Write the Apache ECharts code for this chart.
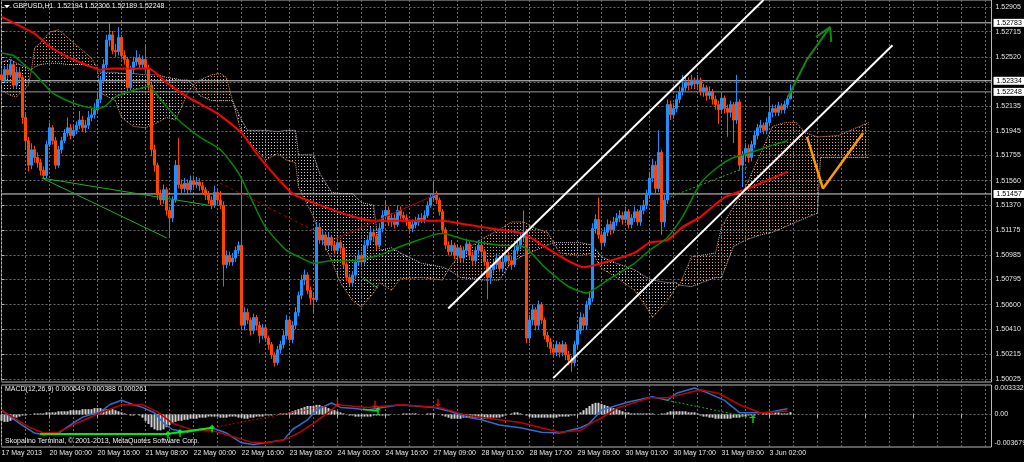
<!DOCTYPE html>
<html><head><meta charset="utf-8">
<script src="https://cdn.jsdelivr.net/npm/echarts@6/dist/echarts.min.js"></script>
<style>html,body{margin:0;padding:0;background:#000}#c{width:1024px;height:462px}</style>
</head><body><div id="c"></div>
<script>
// ---------- DATA (prices in pips above 1.5000: price = 1.5 + pips/10000) ----------
const BASE = 1.5, PIP = 0.0001;
const titleText = 'GBPUSD,H1  1.52194 1.52306 1.52189 1.52248';
const macdText = 'MACD(12,26,9) 0.000649 0.000388 0.000261';
const copyText = 'Skopalino Terminal, \u00A9 2001-2013, MetaQuotes Software Corp.';
const tickLabels = ['17 May 2013','20 May 00:00','20 May 16:00','21 May 08:00','22 May 00:00','22 May 16:00','23 May 08:00','24 May 00:00','24 May 16:00','27 May 09:00','28 May 01:00','28 May 17:00','29 May 09:00','30 May 01:00','30 May 17:00','31 May 09:00','3 Jun 02:00'];
const priceTicks = [1.50025,1.50215,1.50410,1.50600,1.50795,1.50985,1.51175,1.51370,1.51560,1.51755,1.51945,1.52135,1.52325,1.52520,1.52715,1.52905];
const levelLines = [1.52783,1.52334,1.52248,1.51457];
const firstOpen = 238;
const closes = [234,242,238,246,230,240,236,205,187,168,
180,174,170,164,160,184,197,187,168,180,
187,193,197,191,195,199,203,197,199,205,
207,211,219,234,246,265,269,257,256,267,
253,250,228,242,248,251,246,250,243,230,
180,168,145,141,149,133,127,141,168,153,
150,154,149,156,153,155,152,149,145,141,
137,147,141,137,91,98,93,96,102,106,
44,54,48,40,50,44,36,42,34,29,
21,15,25,29,36,48,33,44,54,67,
79,83,71,65,64,120,110,114,106,112,
106,102,108,104,91,81,77,83,93,98,
93,106,110,116,113,106,119,129,133,124,
127,122,133,129,127,124,119,122,124,127,
126,129,137,143,145,141,132,118,106,101,
106,98,104,96,102,107,98,94,102,106,
101,93,81,87,91,96,88,93,98,94,
91,102,106,112,116,34,48,56,44,60,
48,36,31,26,23,29,23,29,21,17,
15,29,40,50,44,60,65,119,126,114,
108,116,122,118,124,127,129,126,132,122,
127,132,124,133,137,145,158,168,150,178,
124,141,215,207,212,219,225,228,232,230,
234,231,234,225,228,222,225,219,215,211,
220,212,209,215,203,217,168,176,181,174,
184,191,197,199,195,201,209,212,209,214,
211,215,219.4,224.8];
const highs = [242,245,246,250,248,243,244,238,208,190,
185,183,178,173,167,187,201,199,190,183,
190,196,205,200,199,202,210,206,203,210,
212,216,224,237,250,269,278,272,262,275,
269,257,252,245,252,257,254,253,261,246,
232,184,170,149,153,151,136,144,172,189,
157,158,157,160,160,159,158,155,151,148,
144,152,150,148,140,102,101,100,105,109,
156,58,57,50,53,52,47,45,44,36,
31,23,28,32,40,52,50,47,58,70,
83,87,85,74,69,124,123,118,116,116,
114,109,112,110,106,93,84,86,97,102,
100,110,114,120,119,115,123,133,141,136,
131,130,137,136,132,130,126,126,128,130,
131,133,140,146,155,148,143,134,120,109,
110,108,107,106,105,111,109,101,105,110,
108,103,95,90,95,100,98,97,102,101,
97,106,110,116,133,118,52,60,58,63,
62,50,39,34,29,32,31,32,31,24,
20,32,44,54,53,63,70,123,130,143,
117,120,126,125,128,131,133,132,136,134,
130,136,134,137,141,149,163,173,171,195,
180,145,219,218,216,223,229,238,236,236,
238,236,238,236,231,230,229,227,222,218,
224,222,215,218,217,238,219,179,185,184,
187,195,200,203,201,205,221,215,215,217,
216,218,222,230.6];
const lows = [231,232,235,236,227,228,233,200,180,163,
165,170,166,160,158,158,182,184,165,166,
177,185,190,188,189,192,196,194,193,196,
202,204,209,216,231,243,260,254,252,253,
250,246,225,226,239,245,243,243,240,226,
175,163,141,137,138,129,112,124,139,150,
146,147,145,147,150,150,148,146,141,138,
134,135,138,134,74,88,90,90,93,99,
40,40,45,36,37,40,30,33,31,25,
18,12,13,22,26,33,30,30,41,51,
64,75,68,60,53,62,107,106,102,103,
102,99,100,100,88,78,74,74,80,90,
89,91,103,107,109,102,104,116,126,121,
120,119,120,126,124,121,116,116,119,121,
123,123,127,135,140,138,129,115,103,98,
98,95,95,93,92,100,95,90,91,99,
97,90,64,76,84,88,85,85,90,91,
87,89,99,103,109,30,30,44,40,41,
45,33,27,22,19,20,19,20,17,13,
8,12,26,37,40,41,56,62,115,111,
104,105,113,114,115,121,124,122,123,119,
119,124,121,121,130,134,142,155,146,147,
114,120,138,203,204,209,216,222,225,226,
227,227,228,222,221,218,219,215,211,200,
208,208,190,205,185,200,164,151,172,170,
171,181,188,193,192,192,198,205,206,206,
208,208,212,218.9];
// moving averages [bar, pips]
const redMA = [[0,283],[11,270],[16,260],[22,252],[27,247],[33,242],[37,243],[42,243],[49,243],[55,232],[62,221],[72,208],[80,193],[86,174],[97,146],[104,139],[116,129],[124,125],[133,125],[147,125],[155,122],[166,118],[174,115],[183,102],[194,89],[200,92],[211,100],[216,108],[222,110],[227,120],[233,128],[241,143],[249,150],[255,156],[262,163]];
const greenMA = [[0,255],[4,253],[7,247],[11,239],[17,224],[24,216],[31,212],[34,213],[38,221],[44,226],[49,229],[53,219],[59,203],[66,190],[73,180],[79,162],[83,143],[88,120],[95,102],[100,96],[104,92],[110,94],[117,94],[124,97],[129,101],[133,105],[139,110],[144,114],[147,115],[155,110],[166,106],[174,105],[181,89],[189,74],[195,69],[202,79],[211,92],[216,102],[222,112],[227,128],[233,154],[239,167],[244,174],[250,178],[255,182],[262,187]];
// Ichimoku cloud spans (sampled bars, pips)
const cloudBars = [0,3,5,9,10,11,13,16,19,22,24,27,30,32,33,38,40,44,48,52,55,58,60,62,64,66,70,73,75,77,80,82,86,88,92,95,98,99,104,106,110,113,117,120,124,126,130,133,140,147,149,153,161,166,170,174,178,182,184,186,193,197,200,205,211,215,217,222,225,226,230,238,240,244,248,253,257,261,265,268,272,273,279,286,289];
const spanA = [226,222,221,230,242,259,263,271,273,267,263,257,251,243,224,218,205,198,197,201,205,203,213,224,230,234,238,239,236,218,193,187,177,172,177,172,170,151,128,115,94,77,63,58,69,77,71,80,81,79,87,100,112,118,124,124,119,116,108,100,98,100,88,81,71,58,50,63,74,75,97,100,120,136,151,177,198,201,201,193,190,190,191,198,201];
const spanB = [248,250,247,243,242,244,246,247,247,246,246,246,244,243,240,240,239,239,238,238,236,235,234,234,230,222,218,218,218,218,203,195,195,195,194,195,195,176,176,162,147,146,146,139,137,102,104,100,92,89,87,81,79,79,93,98,102,106,108,108,108,106,97,92,87,81,79,77,77,75,74,81,81,105,110,114,116,120,124,127,131,174,174,174,174];
// drawings [bar, pips]
const channelUpper = [[148.9,57],[254,296]];
const channelLower = [[183.9,3],[297,261]];
const greenTrend1 = [[13.5,158],[70.5,136.4]];
const greenTrend2 = [[13.5,158],[55.2,111.5]];
const greenTrend3 = [[120.5,80.5],[125.5,72.8]];
const redDashed = [[72.8,154.2],[103.8,117.8]];
const redSolid = [[110.5,110],[145.2,145.7]];
const greenDotted = [[221.8,142.5],[248.5,166.6]];
const greenArrow = [[262.2,221],[268.5,250],[276.2,275]];
const greenArrowHead = [[271.5,267.3],[276.2,275],[276.6,263.4]];
const orangeV = [[268.5,190],[273.8,150],[287.2,193]];
// MACD lines (units of 0.0001), histogram (units of 0.00012)
const macdMain = [[0,5],[6,-10],[11,-21],[14,-23],[19,-21],[22,-14],[27,-3],[33,3],[36,11],[40,16],[44,11],[47,8],[51,2],[54,-10],[57,-17],[62,-20],[66,-17],[70,-15],[75,-21],[80,-32],[84,-34],[88,-32],[94,-29],[97,-17],[102,-6],[105,5],[110,13],[113,8],[117,7],[122,5],[127,8],[133,11],[144,8],[150,3],[155,-3],[160,-6],[166,-12],[173,-15],[180,-20],[186,-21],[193,-15],[196,-10],[200,5],[209,14],[217,20],[222,16],[225,24],[231,30],[235,25],[241,16],[246,2],[255,2],[262,6.5]];
const macdSignal = [[0,5],[9,-14],[14,-21],[19,-20],[25,-10],[33,2],[40,11],[47,11],[52,3],[57,-10],[64,-18],[70,-18],[77,-25],[83,-31],[88,-32],[94,-29],[99,-21],[104,-10],[110,5],[112,11],[122,8],[133,11],[146,8],[155,-1],[164,-5],[173,-9],[186,-20],[193,-18],[197,-9],[200,-4],[205,7],[216,19],[222,19],[233,28],[239,24],[246,11],[253,2],[262,3.9]];
const macdHist = [-6,-7,-7,-6,-5,-3,-2,-1,-1,0,0,1,1,1,
1,2,2,
2,2,3,3,3,3,4,4,4,
4,5,5,5,5,6,6,6,5,5,4,
5,4,3,2,1,
0,-1,-1,0,-1,
-3,-6,-9,-12,-14,-15,-15,-14,-12,-10,-8,
-7,-6,-6,-5,-5,-4,-4,-4,-3,-3,-3,-2,-2,
-2,-2,-3,-3,-3,-2,-2,-2,-3,-3,-4,-4,-3,-3,-2,-2,-2,-1,-1,-1,0,0,1,1,
1,2,3,4,5,6,7,8,8,8,
9,9,8,7,6,5,
4,3,2,1,0,-1,-1,-2,-2,-2,-2,-2,-2,-1,-1,-1,-1,-1,-1,0,0,0,
0,1,1,1,1,1,0,0,0,1,1,1,0,0,
-1,-2,-3,-4,-4,-4,-4,-3,-3,-3,-3,-3,-3,-4,-4,-4,-3,-3,-3,-3,-2,-1,0,
1,2,2,1,0,
-1,-2,-3,-3,-3,-3,-3,-3,-3,-3,-3,-2,-2,-2,-2,-1,-1,0,
2,4,6,8,10,11,11,10,9,8,7,6,5,4,3,
2,2,1,1,1,1,1,1,1,1,0,0,1,1,
2,3,3,3,3,3,3,2,2,2,1,
-1,-2,-2,-3,-3,-4,-4,-4,-4,-4,-4,-3,-3,-3,-2,-2,
-1,-1,-1,0,0,1,1,1,1,2,2,1,1,1,2.2];
const macdGreenBar = [[12.8,-22],[55,-22],[70.5,-15]];
const macdRedDotted = [[71.8,-14],[110.5,11]];
const macdGreenDotted = [[221.8,16],[250.5,-4]];
const macdGreenShort = [[120.5,6],[125.5,4]];
const downArrows = [[112,13],[124.5,11],[145.5,13]];
const upArrows = [[55.5,-23],[59.5,-21],[70.2,-16],[125.5,4],[250.5,-5]];
const macdTicks = [-0.003679, 0, 0.003332];

// ---------- BUILD ----------
const N = 331; // bar slots incl. future area
const cats = Array.from({length: N}, (_, i) => String(i));
const price = p => +(BASE + p * PIP).toFixed(5);
const toPrice = arr => arr.map(d => [d[0], price(d[1])]);
const toMacd = arr => arr.map(d => [d[0], d[1] * 1e-4]);
const candles = closes.map((c, i) => {
  const o = i === 0 ? firstOpen : closes[i - 1];
  return [price(o), price(c), price(lows[i]), price(highs[i])];
});

function dots(color) {
  const cv = document.createElement('canvas');
  cv.width = 3; cv.height = 3;
  const g = cv.getContext('2d');
  g.fillStyle = color; g.fillRect(1, 1, 1, 1);
  return {image: cv, repeat: 'repeat'};
}
const brownDots = dots('#f0a060');
const thistleDots = dots('#d8c8d8');

function cloudRender(params, api) {
  const children = [];
  const P = (x, p) => api.coord([x, BASE + p * PIP]);
  for (let k = 0; k < cloudBars.length - 1; k++) {
    const x0 = cloudBars[k], x1 = cloudBars[k + 1];
    const a0 = spanA[k], a1 = spanA[k + 1], b0 = spanB[k], b1 = spanB[k + 1];
    const d0 = a0 - b0, d1 = a1 - b1;
    const polys = [];
    if (d0 * d1 < 0) {
      const t = d0 / (d0 - d1);
      const xm = x0 + t * (x1 - x0), ym = a0 + t * (a1 - a0);
      polys.push([[P(x0, a0), P(xm, ym), P(x0, b0)], d0]);
      polys.push([[P(xm, ym), P(x1, a1), P(x1, b1)], d1]);
    } else {
      polys.push([[P(x0, a0), P(x1, a1), P(x1, b1), P(x0, b0)], d0 + d1]);
    }
    polys.forEach(pp => children.push({
      type: 'polygon', shape: {points: pp[0]},
      style: {fill: pp[1] >= 0 ? brownDots : thistleDots, stroke: null}
    }));
  }
  return {type: 'group', children};
}

const FONT = 'Liberation Sans';
const gridLine = {show: true, lineStyle: {color: '#6a6a6a', type: [2, 2], width: 1}};
const lineSeries = (data, color, width, type, extra) => Object.assign({
  type: 'line', xAxisIndex: 1, yAxisIndex: 0, data: toPrice(data), showSymbol: false, symbol: 'none',
  lineStyle: {color, width, type: type || 'solid'}, silent: true, z: 5
}, extra || {});
const macdLine = (data, color, width, type) => ({
  type: 'line', xAxisIndex: 3, yAxisIndex: 1, data: toMacd(data), showSymbol: false, symbol: 'none',
  lineStyle: {color, width, type: type || 'solid'}, silent: true, z: 4
});
const levelSeries = v => ({
  type: 'line', xAxisIndex: 1, yAxisIndex: 0, data: [[0, v], [N - 1, v]], showSymbol: false, symbol: 'none',
  silent: true, z: 2, lineStyle: {color: v === 1.52248 ? '#9a9a9a' : '#d8d8d8', width: 1},
  endLabel: {show: true, distance: 2, formatter: () => v.toFixed(5), backgroundColor: '#fff', color: '#000',
    fontSize: 7, fontFamily: FONT, padding: [1, 3, 0, 3]}
});
const arrowPath = 'path://M3,0 L5,0 L5,6 L8,6 L4,10 L0,6 L3,6 Z';

const option = {
  backgroundColor: '#000',
  animation: false,
  textStyle: {fontFamily: FONT},
  grid: [
    {left: 1.5, right: 32.5, top: 0, height: 382, show: true, borderColor: '#b8b8b8', borderWidth: 1, outerBoundsMode: 'none', containLabel: false},
    {left: 1.5, right: 32.5, top: 385, height: 62, show: true, borderColor: '#b8b8b8', borderWidth: 1, outerBoundsMode: 'none', containLabel: false}
  ],
  xAxis: [
    {type: 'category', gridIndex: 0, data: cats, boundaryGap: false, axisLine: {show: false}, axisTick: {show: false}, axisLabel: {show: false}, splitLine: Object.assign({interval: 7}, gridLine)},
    {type: 'value', gridIndex: 0, min: 0, max: N - 1, show: false},
    {type: 'category', gridIndex: 1, data: cats, boundaryGap: false, axisLine: {show: false},
      axisTick: {show: true, interval: 15, length: 3, lineStyle: {color: '#b8b8b8'}},
      axisLabel: {interval: 15, align: 'left', margin: 3, color: '#e6e6e6', fontSize: 7, fontFamily: FONT,
        formatter: (v, i) => (i % 16 === 0 && tickLabels[i / 16]) ? tickLabels[i / 16] : ''},
      splitLine: Object.assign({interval: 7}, gridLine)},
    {type: 'value', gridIndex: 1, min: 0, max: N - 1, show: false}
  ],
  yAxis: [
    {type: 'value', gridIndex: 0, position: 'right', min: 1.5, max: 1.5296, scale: true,
      axisLine: {show: false},
      axisTick: {show: true, length: 3, customValues: priceTicks, lineStyle: {color: '#b8b8b8'}},
      axisLabel: {customValues: priceTicks, formatter: v => v.toFixed(5), color: '#e6e6e6', fontSize: 7, fontFamily: FONT, margin: 4},
      splitLine: gridLine},
    {type: 'value', gridIndex: 1, position: 'right', min: macdTicks[0], max: macdTicks[2],
      axisLine: {show: false},
      axisTick: {show: false, customValues: [0]},
      axisLabel: {customValues: macdTicks, formatter: v => v === 0 ? '0.00' : v.toFixed(6), color: '#e6e6e6', fontSize: 7, fontFamily: FONT, margin: 3,
        verticalAlignMaxLabel: 'top', verticalAlignMinLabel: 'bottom'},
      splitLine: gridLine}
  ],
  graphic: [
    {type: 'polygon', shape: {points: [[4, 5], [10, 5], [7, 8]]}, style: {fill: '#fff'}, z: 100},
    {type: 'text', x: 13, y: 3, z: 100, style: {text: titleText, fill: '#f0f0f0', fontSize: 7, fontFamily: FONT}},
    {type: 'text', x: 5, y: 386, z: 100, style: {text: macdText, fill: '#f0f0f0', fontSize: 7, fontFamily: FONT}},
    {type: 'text', x: 5, y: 438, z: 100, style: {text: copyText, fill: '#f0f0f0', fontSize: 7, fontFamily: FONT}}
  ],
  series: [
    {type: 'custom', xAxisIndex: 1, yAxisIndex: 0, data: [[0, 1.51]], renderItem: cloudRender, clip: true, silent: true, z: 1},
    lineSeries(cloudBars.map((b, k) => [b, spanA[k]]), '#e8985a', 1, 'dotted', {z: 1}),
    lineSeries(cloudBars.map((b, k) => [b, spanB[k]]), '#d0c0d0', 1, 'dotted', {z: 1}),
    ...levelLines.map(levelSeries),
    {type: 'candlestick', xAxisIndex: 0, yAxisIndex: 0, data: candles, barWidth: 2, silent: true, z: 3,
      itemStyle: {color: '#1e90ff', color0: '#ff4500', borderColor: '#1e90ff', borderColor0: '#ff4500', borderWidth: 1}},
    lineSeries(redMA, '#ff0000', 2, 'solid', {smooth: 0.2}),
    lineSeries(greenMA, '#008a00', 1.5, 'solid', {smooth: 0.2}),
    lineSeries(greenTrend1, '#1fb01f', 1),
    lineSeries(greenTrend2, '#1fb01f', 1),
    lineSeries(greenTrend3, '#1fb01f', 1),
    lineSeries(redDashed, '#b00000', 1, [3, 3]),
    lineSeries(redSolid, '#b00000', 1),
    lineSeries(greenDotted, '#22b822', 1, [2, 2]),
    lineSeries(channelUpper, '#ffffff', 2),
    lineSeries(channelLower, '#ffffff', 2),
    lineSeries(orangeV, '#ff9a00', 2.5),
    lineSeries(greenArrow, '#128a12', 2),
    lineSeries(greenArrowHead, '#128a12', 2),
    // MACD panel
    {type: 'bar', xAxisIndex: 2, yAxisIndex: 1, data: macdHist.map(v => v * 1.2e-4), barWidth: 2, silent: true, z: 3,
      itemStyle: {color: '#d0d0d0'}},
    macdLine(macdMain, '#2a6fd0', 1.5),
    macdLine(macdSignal, '#c00000', 1.5),
    macdLine(macdGreenBar, '#00ee00', 2),
    macdLine(macdRedDotted, '#c00000', 1, [2, 2]),
    macdLine(macdGreenDotted, '#00c000', 1, [2, 2]),
    macdLine(macdGreenShort, '#00ee00', 1.5),
    {type: 'scatter', xAxisIndex: 3, yAxisIndex: 1, data: toMacd(downArrows), symbol: arrowPath, symbolSize: [6, 8], silent: true, z: 6,
      itemStyle: {color: '#ff1010'}},
    {type: 'scatter', xAxisIndex: 3, yAxisIndex: 1, data: toMacd(upArrows), symbol: arrowPath, symbolSize: [6, 8], symbolRotate: 180, silent: true, z: 6,
      itemStyle: {color: '#10ff10'}}
  ]
};
const chart = echarts.init(document.getElementById('c'), null, {renderer: 'canvas', devicePixelRatio: 1});
chart.setOption(option);
</script>
</body></html>
